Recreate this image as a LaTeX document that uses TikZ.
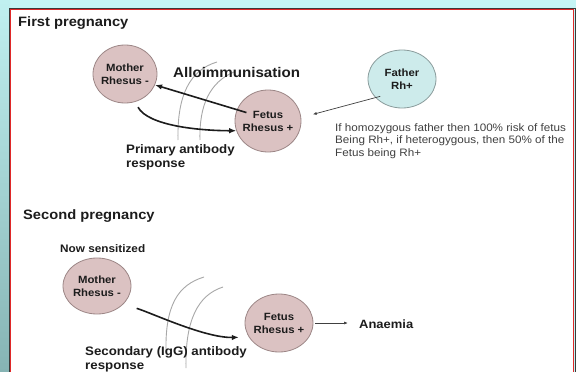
\documentclass[tikz,border=0pt]{standalone}
\usepackage{fontspec}
\setmainfont{Liberation Sans}[FakeStretch=1.08]
\usetikzlibrary{arrows.meta,shapes.geometric}
\definecolor{bgcyan}{HTML}{C5F5F5}
\definecolor{stripTop}{HTML}{C0F0F0}
\definecolor{stripBot}{HTML}{86B4B4}
\definecolor{redline}{HTML}{E02828}
\definecolor{darkline}{HTML}{3A3A3A}
\definecolor{pinkfill}{HTML}{DBC2C2}
\definecolor{pinkedge}{HTML}{9C8686}
\definecolor{fatherfill}{HTML}{CDEBEB}
\definecolor{fatheredge}{HTML}{8A9C9C}
\definecolor{txt}{HTML}{1C1C1C}
\definecolor{notegray}{HTML}{404040}
\definecolor{arcgray}{HTML}{A8A8A8}
\begin{document}
\begin{tikzpicture}[x=1pt,y=-1pt,
  pinknode/.style={shape=ellipse, draw=pinkedge, line width=0.8pt, fill=pinkfill,
    inner xsep=-4pt, inner ysep=0pt, align=center,
    font=\bfseries\fontsize{10.5}{13}\selectfont, text=txt},
  fathernode/.style={pinknode, fill=fatherfill, draw=fatheredge},
  heading/.style={anchor=base west, inner sep=0pt,
    font=\bfseries\fontsize{13.6}{16}\selectfont, text=txt},
  lbl/.style={anchor=base west, inner sep=0pt, align=left, text=txt},
  note/.style={anchor=base west, inner sep=0pt, align=left,
    font=\fontsize{10.8}{12.5}\selectfont, text=notegray},
  thickarrow/.style={draw=txt, line width=1.6pt, -{Latex[length=7pt,width=5.5pt]}},
  thinarrow/.style={draw=notegray, line width=0.7pt, -{Latex[length=4pt,width=3pt]}},
  arcline/.style={draw=arcgray, line width=0.9pt}
]
\useasboundingbox (0,0) rectangle (576,372);
% background
\fill[bgcyan] (0,0) rectangle (576,372);
\shade[top color=stripTop, bottom color=stripBot] (0,0) rectangle (10,372);
\fill[white] (10,9) rectangle (574,372);
\draw[darkline, line width=0.8pt] (9,372) -- (9,8) -- (575,8) -- (575,372);
\draw[redline, line width=1.6pt] (10.6,372) -- (10.6,9.6) -- (573.4,9.6) -- (573.4,372);

% placenta arcs
\draw[arcline] (178,140) .. controls (177,95) and (190,70) .. (217,62);
\draw[arcline] (200,140) .. controls (199,105) and (210,82) .. (234,72);
\draw[arcline] (166,352) .. controls (165,305) and (178,285) .. (204,277);
\draw[arcline] (186,368) .. controls (185,320) and (198,295) .. (223,287);

% nodes, first pregnancy
\node[pinknode, minimum width=64pt, minimum height=58pt] (mother1) at (125,74) {Mother\\Rhesus -};
\node[pinknode, minimum width=66pt, minimum height=62pt] (fetus1) at (268,121) {Fetus\\Rhesus +};
\node[fathernode, minimum width=68pt, minimum height=58pt] (father) at (402,79) {Father\\Rh+};

% nodes, second pregnancy
\node[pinknode, minimum width=68pt, minimum height=56pt] (mother2) at (97,286) {Mother\\Rhesus -};
\node[pinknode, minimum width=68pt, minimum height=58pt] (fetus2) at (279,323) {Fetus\\Rhesus +};

% texts (multi-line nodes are placed by the baseline of their last line)
\node[heading] (h1) at (18,27) {First pregnancy};
\node[heading] (h2) at (23,219) {Second pregnancy};
\node[lbl, font=\bfseries\fontsize{14}{16}\selectfont] (allo) at (173,77) {Alloimmunisation};
\node[lbl, font=\bfseries\fontsize{12.3}{14}\selectfont] (prim) at (126,167) {Primary antibody\\response};
\node[lbl, font=\bfseries\fontsize{10.9}{13}\selectfont] (sens) at (60,252) {Now sensitized};
\node[lbl, font=\bfseries\fontsize{12.3}{14}\selectfont] (sec) at (85,369) {Secondary (IgG) antibody\\response};
\node[lbl, font=\bfseries\fontsize{12}{14}\selectfont] (anaemia) at (359,328) {Anaemia};
\node[note] (fnote) at (335,156) {If homozygous father then 100\% risk of fetus\\Being Rh+, if heterogygous, then 50\% of the\\Fetus being Rh+};

% connectors
\draw[thickarrow, shorten <=-10pt] (fetus1.160) -- (mother1.-20);
\draw[thickarrow, shorten <=6pt] (mother1.-70) .. controls +(13,24) and +(-36,0) .. (fetus1.197);
\draw[thinarrow, shorten <=-5pt, shorten >=12pt] (father.215) -- (fetus1.6);
\draw[thickarrow, shorten <=14pt, shorten >=10pt] (mother2.-35) .. controls +(27,8) and +(-44,1) .. (fetus2.205);
\draw[thinarrow, shorten <=2pt, shorten >=11pt] (fetus2.east) -- (fetus2.east -| anaemia.west);
\end{tikzpicture}
\end{document}
